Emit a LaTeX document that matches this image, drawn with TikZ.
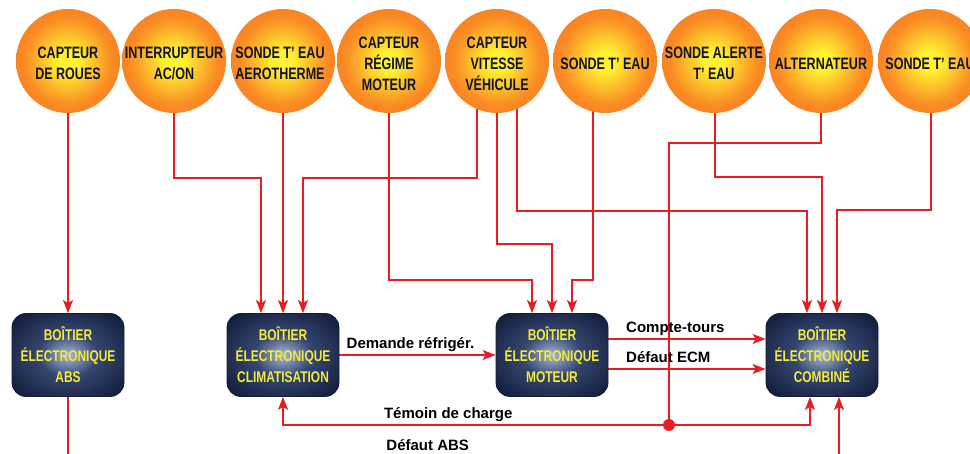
\documentclass[tikz,border=0pt]{standalone}
\usepackage{fontspec}
\setmainfont{Liberation Sans}
\newfontfamily\condfont[FakeStretch=0.76]{Liberation Sans Bold}
\newfontfamily\chipfont[FakeStretch=0.77]{Liberation Sans Bold}
\usetikzlibrary{arrows.meta}

\definecolor{sunY}{RGB}{255,240,50}
\definecolor{sunO}{RGB}{250,140,36}
\definecolor{sunR}{RGB}{238,70,34}
\definecolor{navyD}{RGB}{20,30,60}
\definecolor{navyM}{RGB}{52,70,112}
\definecolor{navyL}{RGB}{170,185,215}
\definecolor{wireR}{RGB}{232,28,36}
\definecolor{chipText}{RGB}{242,234,60}
\definecolor{ink}{RGB}{18,20,40}

% glowing sensor discs and dark control-unit boxes
\pgfdeclareradialshading{sun}{\pgfpoint{0bp}{0bp}}{color(0bp)=(sunY); color(5bp)=(sunY); color(21bp)=(sunO); color(38bp)=(sunO!50!sunR); color(50bp)=(sunR)}
\pgfdeclareradialshading{chipglow}{\pgfpoint{0bp}{0bp}}{color(0bp)=(navyL); color(13bp)=(navyM); color(32bp)=(navyD); color(50bp)=(navyD)}

\pgfdeclarelayer{background}
\pgfsetlayers{background,main}

\tikzset{
  sensor/.style={circle, minimum size=104pt, inner sep=0pt, shading=sun},
  sensorlabel/.style={font=\condfont\fontsize{16.5}{21}\selectfont, text=ink, align=center, inner sep=0pt},
  ecu/.style={rounded corners=14pt, minimum width=112pt, minimum height=83pt, inner sep=0pt,
    shading=chipglow, draw=navyD, line width=0.8pt, text=chipText, align=center,
    font=\chipfont\fontsize{15.5}{21}\selectfont},
  wire/.style={draw=wireR, line width=1.6pt},
  feed/.style={wire, -{Stealth[length=13pt,width=10pt,inset=3pt]}},
  joint/.style={circle, fill=wireR, minimum size=12pt, inner sep=0pt},
  sig/.style={font=\bfseries\fontsize{15}{18}\selectfont, text=black, inner sep=0pt, anchor=base west, yshift=6pt}
}

\begin{document}
\begin{tikzpicture}[x=1pt,y=-1pt]
  \useasboundingbox (0,0) rectangle (970,454);
  \clip (0,0) rectangle (970,454);

  % sensors
  \node[sensor] (s1) at (68,61) {};
  \node[sensor] (s2) at (174,61) {};
  \node[sensor] (s3) at (283,61) {};
  \node[sensor] (s4) at (389,61) {};
  \node[sensor] (s5) at (497,61) {};
  \node[sensor] (s6) at (605,61) {};
  \node[sensor] (s7) at (714,61) {};
  \node[sensor] (s8) at (821,61) {};
  \node[sensor] (s9) at (930,61) {};

  \node[sensorlabel] at ([yshift=-2pt]s1.center) {CAPTEUR\\DE ROUES};
  \node[sensorlabel] at ([yshift=-2pt]s2.center) {INTERRUPTEUR\\AC/ON};
  \node[sensorlabel] at ([yshift=-2pt,xshift=-3pt]s3.center) {SONDE T’ EAU\\AEROTHERME};
  \node[sensorlabel] at ([yshift=-3pt]s4.center) {CAPTEUR\\RÉGIME\\MOTEUR};
  \node[sensorlabel] at ([yshift=-3pt]s5.center) {CAPTEUR\\VITESSE\\VÉHICULE};
  \node[sensorlabel] at ([yshift=-3pt]s6.center) {SONDE T’ EAU};
  \node[sensorlabel] at ([yshift=-2pt]s7.center) {SONDE ALERTE\\T’ EAU};
  \node[sensorlabel] at ([yshift=-3pt]s8.center) {ALTERNATEUR};
  \node[sensorlabel] at ([yshift=-3pt]s9.center) {SONDE T’ EAU};

  % control units
  \node[ecu] (abs)  at (68,355) {BOÎTIER\\ÉLECTRONIQUE\\ABS};
  \node[ecu] (clim) at (283,355) {BOÎTIER\\ÉLECTRONIQUE\\CLIMATISATION};
  \node[ecu] (mot)  at (552,355) {BOÎTIER\\ÉLECTRONIQUE\\MOTEUR};
  \node[ecu] (comb) at (822,355) {BOÎTIER\\ÉLECTRONIQUE\\COMBINÉ};

  \node[joint] (j) at (669,425) {};

  \begin{pgfonlayer}{background}
    \fill[white] (0,0) rectangle (970,454);
    % sensor feeds
    \draw[feed] (s1.center) -- (abs.north);
    \draw[feed] (s2.center) -- ++(0,117) -| ([xshift=-22pt]clim.north);
    \draw[feed] (s3.center) -- (clim.north);
    \draw[feed] (s5.center) ++(-20,0) -- ++(0,117) -| ([xshift=20pt]clim.north);
    \draw[feed] (s4.center) -- ++(0,219) -| ([xshift=-20pt]mot.north);
    \draw[feed] (s5.center) -- ++(0,183) -| (mot.north);
    \draw[feed] (s6.center) ++(-12,0) -- ++(0,219) -| ([xshift=20pt]mot.north);
    \draw[feed] (s5.center) ++(20,0) -- ++(0,150) -| ([xshift=-15pt]comb.north);
    \draw[feed] (s7.center) ++(1,0) -- ++(0,116) -| (comb.north);
    \draw[feed] (s9.center) ++(1,0) -- ++(0,149) -| ([xshift=15pt]comb.north);
    \draw[wire] (s8.center) -- ++(0,82) -| (j);

    % charge warning, split at the junction
    \draw[feed] (j) -| node[sig, pos=0.368] {Témoin de charge} (clim.south);
    \draw[feed] (j) -| ([xshift=-12pt]comb.south);

    % unit-to-unit signals
    \draw[feed] (clim.east) -- node[sig, pos=0, xshift=6.5pt] {Demande réfrigér.} (mot.west);
    \draw[feed] ([yshift=16pt]mot.east) -- node[sig, pos=0, xshift=17pt] {Compte-tours} ([yshift=16pt]comb.west);
    \draw[feed] ([yshift=-14pt]mot.east) -- node[sig, pos=0, xshift=17pt] {Défaut ECM} ([yshift=-14pt]comb.west);
    \draw[feed] (abs.south) -- ++(0,60) -| node[sig, pos=0.206] {Défaut ABS} ([xshift=17pt]comb.south);
  \end{pgfonlayer}
\end{tikzpicture}
\end{document}
